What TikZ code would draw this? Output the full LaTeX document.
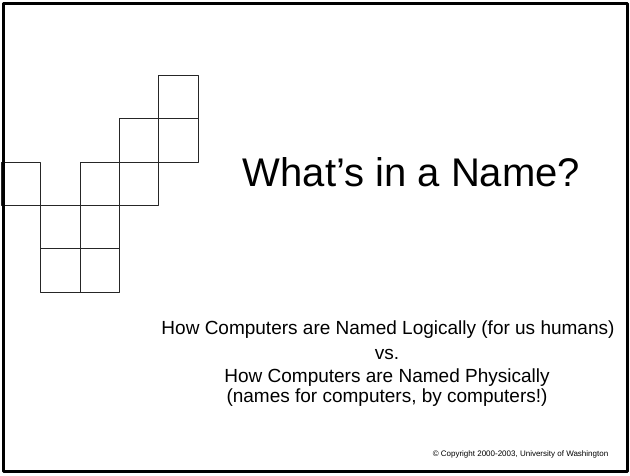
\documentclass[tikz,border=0pt]{standalone}
\usepackage{fontspec}
\setmainfont{Liberation Sans}
\usepackage{tikz}

\begin{document}
\begin{tikzpicture}[line cap=round,line join=round,x=1pt,y=-1pt,
    cell/.style={draw=black!85,line width=0.9pt,line cap=butt},
    bodytext/.style={anchor=base,font=\fontsize{19}{22.7}\selectfont}]
    \useasboundingbox (0,0) rectangle (630,476);
    % staircase of squares (column, row)
    \foreach \c/\r in {4/0,3/1,4/1,0/2,2/2,3/2,1/3,2/3,1/4,2/4}
      \draw[cell] ({1.5+39.3*\c},{75.3+43.4*\r}) rectangle ++(39.3,43.4);
    % slide frame
    \draw[line width=2.8pt,line cap=butt] (3.4,3.2) rectangle (627.6,471.6);
    \node[anchor=base,font=\fontsize{40}{44}\selectfont] (title) at (411.5,187) {What’s in a Name?};
    \node[bodytext] (logical) at (388,334.5) {How Computers are Named Logically (for us humans)};
    \node[bodytext] (versus) at (387,359.5) {vs.};
    \node[bodytext] (physical) at (387,382.5) {How Computers are Named Physically};
    \node[bodytext] (bycomp) at (387,402.5) {(names for computers, by computers!)};
    \node[anchor=base,font=\fontsize{8}{9}\selectfont] (copy) at (520.5,456) {© Copyright 2000-2003, University of Washington};
\end{tikzpicture}
\end{document}
